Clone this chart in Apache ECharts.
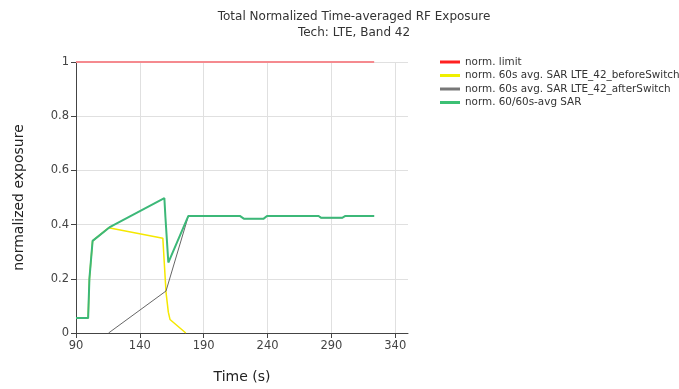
<!DOCTYPE html>
<html><head><meta charset="utf-8">
<script src="https://cdn.jsdelivr.net/npm/echarts@6/dist/echarts.min.js"></script>
<style>html,body{margin:0;padding:0;background:#fff}#c{width:679px;height:389px}</style>
</head><body><div id="c"></div>
<script>
const seriesNames = ['norm. limit','norm. 60s avg. SAR LTE_42_beforeSwitch','norm. 60s avg. SAR LTE_42_afterSwitch','norm. 60/60s-avg SAR'];
const xTicks = [90,140,190,240,290,340];
const yTicks = [0,0.2,0.4,0.6,0.8,1];

const limitT = [90, 323.5];
const limitV = [1, 1];

const beforeT = [90, 99.5, 100.5, 103, 115.5, 158, 160.5, 162.3, 163.6, 176];
const beforeV = [0.055, 0.055, 0.2, 0.34, 0.388, 0.35, 0.15, 0.077, 0.05, 0];

const afterT = [115.5, 160.5, 178, 218.3, 221.4, 237, 239.6, 280, 282, 298.4, 301, 323.5];
const afterV = [0, 0.155, 0.432, 0.432, 0.422, 0.422, 0.432, 0.432, 0.425, 0.425, 0.432, 0.432];

const totalT = [90, 99.5, 100.5, 103, 116.8, 159.2, 160, 162.3, 178, 218.3, 221.4, 237, 239.6, 280, 282, 298.4, 301, 323.5];
const totalV = [0.055, 0.055, 0.2, 0.34, 0.392, 0.498, 0.43, 0.26, 0.432, 0.432, 0.422, 0.422, 0.432, 0.432, 0.425, 0.425, 0.432, 0.432];

const pairs = (t, v) => t.map((x, i) => [x, v[i]]);
const FONT = 'DejaVu Sans';
const chart = echarts.init(document.getElementById('c'), null, {renderer: 'canvas'});
chart.setOption({
  animation: false,
  textStyle: {fontFamily: FONT},
  title: {
    text: 'Total Normalized Time-averaged RF Exposure\nTech: LTE, Band 42',
    left: 349, top: 4, textAlign: 'center',
    textStyle: {fontFamily: FONT, fontSize: 12, fontWeight: 'normal', color: '#333', lineHeight: 16}
  },
  legend: {
    orient: 'vertical', left: 435, top: 51,
    itemWidth: 20, itemHeight: 3, itemGap: 1.5, icon: 'rect',
    textStyle: {fontFamily: FONT, fontSize: 10.4, color: '#333', lineHeight: 12},
    data: seriesNames
  },
  grid: {left: 76, right: 271, top: 62, bottom: 55, containLabel: false},
  xAxis: {
    type: 'value', min: 90, max: 350, interval: 50,
    name: 'Time (s)', nameLocation: 'middle', nameGap: 37,
    nameTextStyle: {fontFamily: FONT, fontSize: 14, color: '#222'},
    axisLine: {show: true, onZero: false, lineStyle: {color: '#444'}},
    axisTick: {show: true, length: 5, lineStyle: {color: '#444'}},
    axisLabel: {fontFamily: FONT, fontSize: 11.5, color: '#444', margin: 7, showMaxLabel: false},
    splitLine: {show: true, showMaxLine: false, lineStyle: {color: '#e0e0e0'}}
  },
  yAxis: {
    type: 'value', min: 0, max: 1, interval: 0.2,
    name: 'normalized exposure', nameLocation: 'middle', nameGap: 50,
    nameTextStyle: {fontFamily: FONT, fontSize: 14, color: '#222'},
    axisLine: {show: true, lineStyle: {color: '#444'}},
    axisTick: {show: true, length: 5, lineStyle: {color: '#444'}},
    axisLabel: {fontFamily: FONT, fontSize: 11.5, color: '#444', margin: 7,
      formatter: v => (Math.round(v * 10) / 10).toString()},
    splitLine: {show: true, lineStyle: {color: '#e0e0e0'}}
  },
  series: [
    {name: seriesNames[0], type: 'line', data: pairs(limitT, limitV), showSymbol: false,
     itemStyle: {color: '#ff2020'}, lineStyle: {color: '#f58a8f', width: 2}, z: 2},
    {name: seriesNames[1], type: 'line', data: pairs(beforeT, beforeV), showSymbol: false,
     itemStyle: {color: '#f0f000'}, lineStyle: {color: '#f5e800', width: 1.5}, z: 3},
    {name: seriesNames[2], type: 'line', data: pairs(afterT, afterV), showSymbol: false,
     itemStyle: {color: '#777'}, lineStyle: {color: '#666', width: 1}, z: 4},
    {name: seriesNames[3], type: 'line', data: pairs(totalT, totalV), showSymbol: false,
     itemStyle: {color: '#3cc074'}, lineStyle: {color: '#3cb878', width: 2}, z: 5}
  ]
});
</script></body></html>
